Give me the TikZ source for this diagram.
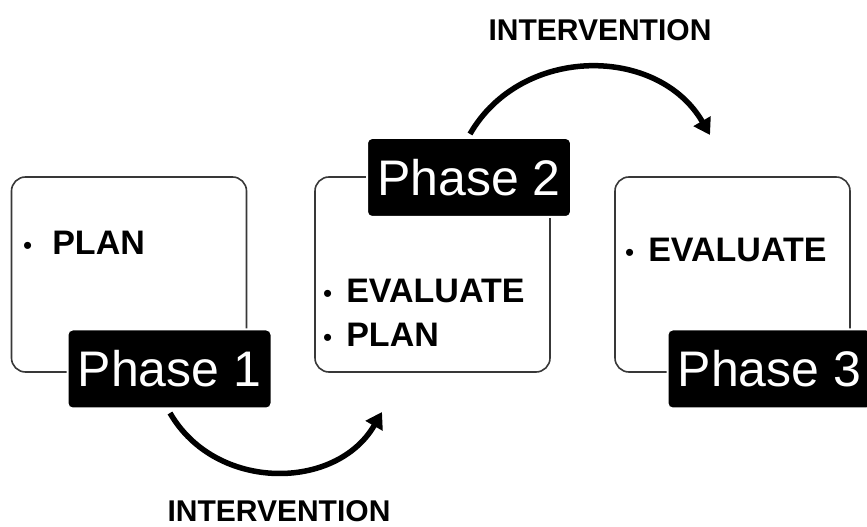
\documentclass[tikz,border=0pt]{standalone}
\usepackage{fontspec}
\setmainfont{Liberation Sans}
\usetikzlibrary{arrows.meta}
\newcommand{\bul}{{\mdseries\fontsize{26}{26}\selectfont •}}
\begin{document}
\begin{tikzpicture}[x=1pt,y=1pt,
  panel/.style={draw=black!78, line width=1.6pt, rounded corners=14pt, fill=white, inner sep=0pt, minimum width=235pt, minimum height=195pt},
  phase/.style={fill=black, draw=white, line width=2pt, rounded corners=5pt, text=white, font=\fontsize{50}{50}\selectfont, minimum width=204pt, minimum height=79pt, inner sep=0pt},
  item/.style={anchor=base west, font=\fontsize{34}{34}\bfseries\selectfont, inner sep=0pt},
  intv/.style={font=\fontsize{30}{30}\bfseries\selectfont, inner sep=0pt, anchor=base},
  flow/.style={line width=5.5pt, -{Triangle[length=16pt,width=19pt]}}
]
\useasboundingbox (0,0) rectangle (867,527);
\clip (0,0) rectangle (867,527);
% panels
\node[panel] (b1) at (129,252.5) {};
\node[panel] (b2) at (432.5,252.5) {};
\node[panel] (b3) at (732.5,252.5) {};
% texts in panels
\node[item] (t1) at (23,272) {\bul\hspace{20pt}PLAN};
\node[item] (t2a) at (323,224) {\bul\hspace{14pt}EVALUATE};
\node[item] (t2b) at (323,180) {\bul\hspace{14pt}PLAN};
\node[item] (t3) at (625,265) {\bul\hspace{14pt}EVALUATE};
% arrows
\coordinate (a1s) at (170,114);
\coordinate (a1e) at (382,115);
\coordinate (a2s) at (470,393);
\coordinate (a2e) at (710,392);
\draw[flow] (a1s) to[out=-60,in=-120,looseness=1.1] (a1e);
\draw[flow] (a2s) to[out=60,in=120,looseness=1.1] (a2e);
% phase labels
\node[phase] (p1) at (169.5,158) {Phase 1};
\node[phase] (p2) at (469,349.5) {Phase 2};
\node[phase] (p3) at (769.5,158) {Phase 3};
% intervention labels
\node[intv] (i1) at (279,5) {INTERVENTION};
\node[intv] (i2) at (600,486) {INTERVENTION};
\end{tikzpicture}
\end{document}
